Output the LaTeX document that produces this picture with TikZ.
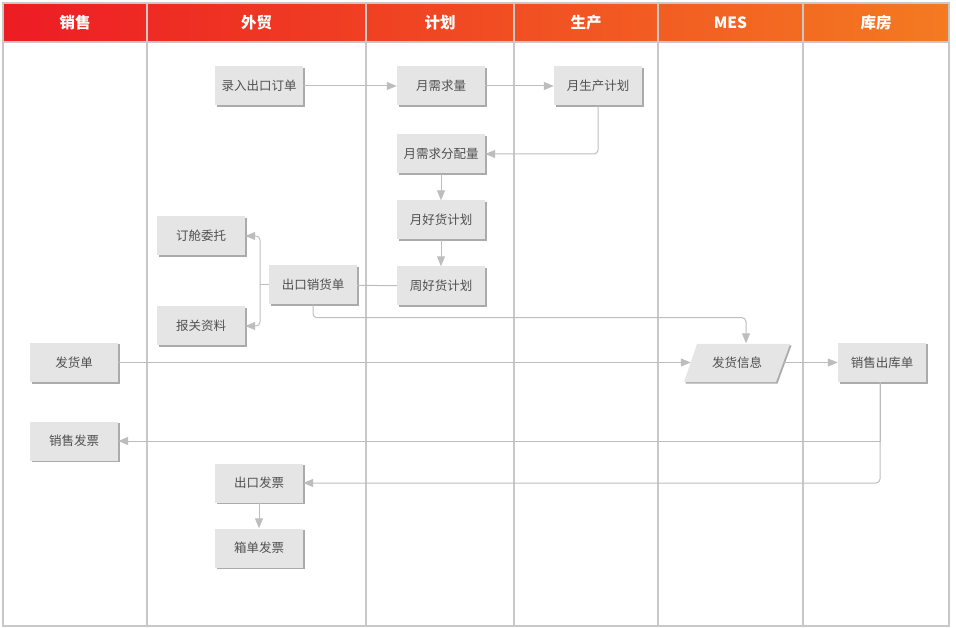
\documentclass[tikz,border=0pt]{standalone}
\usepackage{fontspec}
\setmainfont{Noto Sans CJK SC}
\usetikzlibrary{arrows.meta,shadows}
\definecolor{boxfill}{HTML}{E5E5E6}
\definecolor{boxtext}{HTML}{505050}
\definecolor{lnk}{HTML}{BDBDBD}
\definecolor{lane}{HTML}{C8C8C8}
\definecolor{hdL}{HTML}{ED1C24}
\definecolor{hdR}{HTML}{F47A21}
\definecolor{shd}{HTML}{ABABAB}
\tikzset{
  stepbox/.style={fill=boxfill, minimum width=88pt, minimum height=39pt, inner sep=0pt,
    text=boxtext, font=\fontsize{12.5}{14}\selectfont,
    drop shadow={shadow xshift=1.5pt, shadow yshift=-1.5pt, fill=shd, opacity=1}},
  plainbox/.style={minimum width=92pt, minimum height=38pt, inner sep=0pt,
    text=boxtext, font=\fontsize{12.5}{14}\selectfont},
  conn/.style={draw=lnk, line width=1pt, rounded corners=4pt},
  arr/.style={conn, -{Triangle[length=10pt,width=8pt]}},
  hdtext/.style={text=white, font=\fontsize{15.5}{18}\selectfont\bfseries},
  laneline/.style={draw=lane, line width=1.5pt},
}
\begin{document}
\begin{tikzpicture}[x=1pt,y=-1pt]
\useasboundingbox (0,0) rectangle (956,628);
% header
\shade[left color=hdL, right color=hdR] (3,3) rectangle (949,42);
\node[hdtext] (h1) at (75,23) {销售};
\node[hdtext] (h2) at (256.5,23) {外贸};
\node[hdtext] (h3) at (440,23) {计划};
\node[hdtext] (h4) at (586,23) {生产};
\node[hdtext] (h5) at (730.5,23) {MES};
\node[hdtext] (h6) at (876,23) {库房};
% lanes
\draw[laneline] (3,3) rectangle (949,626);
\draw[laneline] (3,42) -- (949,42);
\foreach \xx in {147,366,514,658,803} \draw[laneline] (\xx,3) -- (\xx,626);
% parallelogram
\fill[shd] (698.5,345.5) -- (791.5,345.5) -- (777.5,383.5) -- (685.5,383.5) -- cycle;
\fill[boxfill] (697,344) -- (790,344) -- (776,382) -- (684,382) -- cycle;
% boxes
\node[stepbox] (order) at (259,86) {录入出口订单};
\node[stepbox] (demand) at (441,86) {月需求量};
\node[stepbox] (prodplan) at (598,86) {月生产计划};
\node[stepbox] (alloc) at (441,154) {月需求分配量};
\node[stepbox] (mgood) at (441,220) {月好货计划};
\node[stepbox] (wgood) at (441,286) {周好货计划};
\node[stepbox] (booking) at (201,236) {订舱委托};
\node[stepbox] (sales) at (313,285) {出口销货单};
\node[stepbox] (customs) at (201,326) {报关资料};
\node[stepbox] (fahuo) at (74,362.5) {发货单};
\node[plainbox] (info) at (737,362.5) {发货信息};
\node[stepbox] (outstock) at (882,362.5) {销售出库单};
\node[stepbox] (invS) at (74,441) {销售发票};
\node[stepbox] (expinv) at (259,483) {出口发票};
\node[stepbox] (boxinv) at (259,548) {箱单发票};
% connectors
\draw[arr] (order) -- (demand);
\draw[arr] (demand) -- (prodplan);
\draw[arr] (prodplan.south) |- (alloc.east);
\draw[arr] (alloc) -- (mgood);
\draw[arr] (mgood) -- (wgood);
\draw[conn] (wgood) -- (sales);
\coordinate (fork) at (260,285);
\draw[conn] (sales.west) -- (fork);
\draw[arr] (fork) |- (booking.east);
\draw[arr] (fork) |- (customs.east);
\draw[arr] (sales.south) -- ++(0,13) -| ([xshift=9pt]info.north);
\draw[arr] (fahuo) -- (info.west);
\draw[arr] (info.east) -- (outstock);
\draw[arr, sharp corners] ([xshift=-2pt]outstock.south) |- (invS.east);
\draw[arr] ([xshift=-2pt]outstock.south) |- (expinv.east);
\draw[arr] (expinv) -- (boxinv);
\end{tikzpicture}
\end{document}
